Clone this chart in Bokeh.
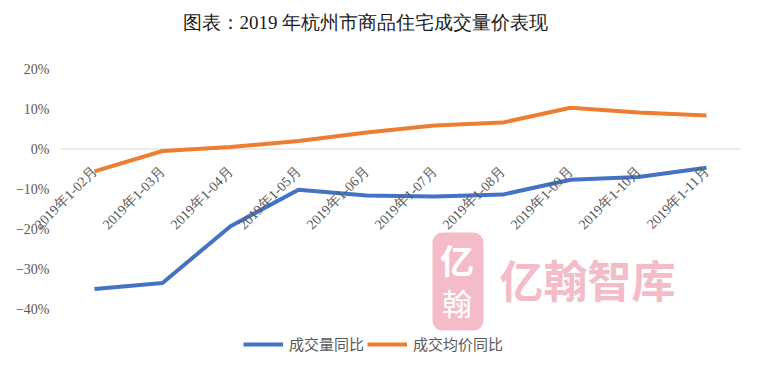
import numpy as np
from bokeh.plotting import figure
from bokeh.models import ColumnDataSource, Range1d, Label, LabelSet, BoxAnnotation
from bokeh.core.properties import value
from bokeh.embed import file_html
from bokeh.resources import INLINE

categories = ["2019年1-02月", "2019年1-03月", "2019年1-04月", "2019年1-05月", "2019年1-06月",
              "2019年1-07月", "2019年1-08月", "2019年1-09月", "2019年1-10月", "2019年1-11月"]
volume_yoy = [-35.0, -33.5, -19.3, -10.2, -11.6, -11.9, -11.4, -7.7, -7.0, -4.7]
price_yoy = [-5.6, -0.5, 0.5, 2.0, 4.1, 5.9, 6.6, 10.3, 9.1, 8.4]
y_ticks = [-40, -30, -20, -10, 0, 10, 20]
y_tick_labels = ["\u221240%", "\u221230%", "\u221220%", "\u221210%", "0%", "10%", "20%"]
title_text = "图表：2019 年杭州市商品住宅成交量价表现"
series_names = ["成交量同比", "成交均价同比"]
watermark = "亿翰智库"

SERIF = "Liberation Serif"
SANS = "Noto Sans CJK SC"

n = len(categories)
x = np.arange(n)
px = 68.0  # pixels per category
x_start = -0.5 - 60 / px
x_end = -0.5 + 683 / px

p = figure(width=743, height=356, output_backend="svg", toolbar_location=None,
           x_range=Range1d(x_start, x_end), y_range=Range1d(-51.875, 37.125),
           min_border_left=0, min_border_right=0, min_border_top=0, min_border_bottom=0)
p.outline_line_color = None
p.xgrid.visible = False
p.ygrid.visible = False
p.xaxis.visible = False
p.yaxis.visible = False

# zero line across the category area
p.segment(x0=[-0.5], y0=[0], x1=[n - 0.5], y1=[0], line_color="#d9d9d9", line_width=1)

# y tick labels
tick_src = ColumnDataSource(dict(x=[-0.5 - 11 / px] * len(y_ticks), y=y_ticks, t=y_tick_labels))
p.text("x", "y", text="t", source=tick_src, text_align="right", text_baseline="middle",
       text_font=value(SERIF), text_font_size="14px", text_color="#595959")

# watermark
p.add_layout(BoxAnnotation(left=4.97, right=5.72, top=-20.9, bottom=-45.4,
                           fill_color="#f3bcc8", fill_alpha=1, line_color=None, border_radius=10))
p.add_layout(Label(x=5.33, y=-27.5, text=watermark[0], text_align="center", text_baseline="middle",
                   text_font=SANS, text_font_size="34px", text_font_style="bold", text_color="white"))
p.add_layout(Label(x=5.33, y=-38.3, text=watermark[1], text_align="center", text_baseline="middle",
                   text_font=SANS, text_font_size="30px", text_color="white"))
p.add_layout(Label(x=7.25, y=-32.4, text=watermark, text_align="center", text_baseline="middle",
                   text_font=SANS, text_font_size="44px", text_font_style="bold", text_color="#f3bcc8"))

src = ColumnDataSource(dict(x=x, vol=volume_yoy, price=price_yoy,
                            lx=x - 0.074, ly=[-3.75] * n, cat=categories))

p.line("x", "vol", source=src, line_color="#4472c4", line_width=4, legend_label=series_names[0])
p.line("x", "price", source=src, line_color="#ed7d31", line_width=4, legend_label=series_names[1])

p.add_layout(LabelSet(x="lx", y="ly", text="cat", source=src, angle=np.pi / 4,
                      text_align="right", text_baseline="top",
                      text_font=value(SERIF), text_font_size=value("14px"), text_color="#595959"))

p.add_layout(Label(x=3.985, y=31.6, text=title_text, text_align="center", text_baseline="middle",
                   text_font=SERIF, text_font_size="19px", text_color="#1a1a1a"))

lg = p.legend[0]
lg.location = (243, 2)
lg.orientation = "horizontal"
lg.border_line_color = None
lg.background_fill_alpha = 0
lg.padding = 0
lg.margin = 0
lg.spacing = 3
lg.label_standoff = 6
lg.glyph_width = 40
lg.glyph_height = 20
lg.label_height = 20
lg.label_text_font = SANS
lg.label_text_font_size = "15px"
lg.label_text_color = "#595959"

open("out.html", "w").write(file_html(p, INLINE))
